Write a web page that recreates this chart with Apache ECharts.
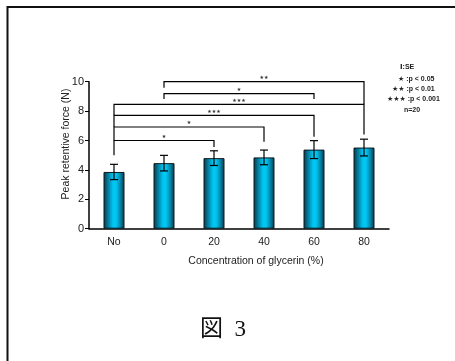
<!DOCTYPE html>
<html>
<head>
<meta charset="utf-8">
<script src="https://cdn.jsdelivr.net/npm/echarts@6/dist/echarts.min.js"></script>
<style>
  html, body { margin: 0; padding: 0; background: #fff; }
  #chart { width: 455px; height: 361px; }
</style>
</head>
<body>
<div id="chart"></div>
<script>
// Peak retentive force by glycerin concentration (mean ± SE, n=20)
const categories = ['No', '0', '20', '40', '60', '80'];
const meanForce = [3.86, 4.46, 4.80, 4.85, 5.38, 5.52];
const seForce = [0.52, 0.53, 0.50, 0.50, 0.61, 0.57];
const yTicks = [0, 2, 4, 6, 8, 10];

// Significance brackets: category indices, bracket height, leg ends and marker
const sigFrom = [0, 0, 0, 0, 1, 1];
const sigTo = [2, 3, 4, 5, 4, 5];
const sigLevel = [6.0, 6.92, 7.71, 8.46, 9.19, 10.0];
const sigLeftEnd = [5.0, 6.0, 6.92, 7.71, 8.82, 9.59];
const sigRightEnd = [5.55, 5.92, 6.26, 6.4, 8.82, 8.46];
const sigLabel = ['★', '★', '★★★', '★★★', '★', '★★'];

const legendLines = ['Ⅰ:SE', '★ :p < 0.05', '★★ :p < 0.01', '★★★ :p < 0.001', 'n=20'];

const chart = echarts.init(document.getElementById('chart'), null, { renderer: 'canvas' });

const barGradient = new echarts.graphic.LinearGradient(0, 0, 1, 0, [
  { offset: 0, color: '#0a3442' },
  { offset: 0.22, color: '#057ea0' },
  { offset: 0.45, color: '#00c6f2' },
  { offset: 0.6, color: '#00c6f2' },
  { offset: 0.82, color: '#047ea0' },
  { offset: 1, color: '#0a3442' }
]);

const errorData = meanForce.map((m, i) => [i, m - seForce[i], m + seForce[i]]);
const sigData = sigFrom.map((f, i) => [f, sigTo[i], sigLevel[i], sigLeftEnd[i], sigRightEnd[i], i]);

const legendX = [400, 398, 392, 387, 404];
const legendY = [67, 79, 89, 99, 110];

const option = {
  animation: false,
  backgroundColor: '#fff',
  grid: { left: 89, right: 66, top: 81.7, bottom: 132.3 },
  xAxis: {
    type: 'category',
    data: categories,
    axisLine: { lineStyle: { color: '#000', width: 1.5 } },
    axisTick: { show: false },
    axisLabel: { color: '#222', fontSize: 10.5, fontFamily: 'Liberation Sans, Arial', margin: 8 }
  },
  yAxis: {
    type: 'value',
    min: 0,
    max: 10,
    interval: 2,
    axisLine: { show: true, lineStyle: { color: '#000', width: 1.5 } },
    axisTick: { show: true, length: 4, lineStyle: { color: '#000', width: 1 } },
    splitLine: { show: false },
    axisLabel: {
      color: '#222', fontSize: 11, fontFamily: 'Liberation Sans, Arial', margin: 5,
      formatter: v => (yTicks.indexOf(v) >= 0 ? String(v) : '')
    }
  },
  series: [
    {
      type: 'bar',
      data: meanForce,
      barWidth: 21,
      itemStyle: { color: barGradient, borderColor: '#0b1a20', borderWidth: 1 },
      z: 2
    },
    {
      type: 'custom',
      data: errorData,
      z: 5,
      renderItem: function (params, api) {
        const x = api.value(0);
        const lo = api.coord([x, api.value(1)]);
        const hi = api.coord([x, api.value(2)]);
        const cap = 4;
        const st = { stroke: '#000', lineWidth: 1.2 };
        return {
          type: 'group',
          children: [
            { type: 'line', shape: { x1: lo[0], y1: lo[1], x2: hi[0], y2: hi[1] }, style: st },
            { type: 'line', shape: { x1: hi[0] - cap, y1: hi[1], x2: hi[0] + cap, y2: hi[1] }, style: st },
            { type: 'line', shape: { x1: lo[0] - cap, y1: lo[1], x2: lo[0] + cap, y2: lo[1] }, style: st }
          ]
        };
      }
    },
    {
      type: 'custom',
      data: sigData,
      z: 6,
      clip: false,
      renderItem: function (params, api) {
        const a = api.value(0), b = api.value(1), lvl = api.value(2);
        const pA = api.coord([a, lvl]);
        const pB = api.coord([b, lvl]);
        const eA = api.coord([a, api.value(3)]);
        const eB = api.coord([b, api.value(4)]);
        const idx = api.value(5);
        return {
          type: 'group',
          children: [
            { type: 'polyline', shape: { points: [[eA[0], eA[1]], [pA[0], pA[1]], [pB[0], pB[1]], [eB[0], eB[1]]] },
              style: { stroke: '#000', lineWidth: 1.2, fill: null } },
            { type: 'text', style: {
                text: sigLabel[idx], x: (pA[0] + pB[0]) / 2, y: pA[1] - 4,
                align: 'center', verticalAlign: 'middle',
                font: '5px DejaVu Sans', fill: '#333' } }
          ]
        };
      }
    }
  ],
  graphic: [
    { type: 'line', shape: { x1: 7.5, y1: 7, x2: 455, y2: 7 }, style: { stroke: '#111', lineWidth: 2 } },
    { type: 'line', shape: { x1: 7.5, y1: 6, x2: 7.5, y2: 361 }, style: { stroke: '#111', lineWidth: 2 } },
    { type: 'text', x: 66.5, y: 144, rotation: Math.PI / 2,
      style: { text: 'Peak retentive force (N)', align: 'center', verticalAlign: 'middle',
               font: '10.5px Liberation Sans, Arial', fill: '#222' } },
    { type: 'text', x: 256, y: 261,
      style: { text: 'Concentration of glycerin (%)', align: 'center', verticalAlign: 'middle',
               font: '10.5px Liberation Sans, Arial', fill: '#222' } },
    { type: 'text', x: 223, y: 330,
      style: { text: '図  3', align: 'center', verticalAlign: 'middle',
               font: '23px Liberation Serif, Noto Sans CJK JP', fill: '#111' } }
  ].concat(legendLines.map((t, i) => ({
    type: 'text', x: legendX[i], y: legendY[i],
    style: { text: t, align: 'left', verticalAlign: 'middle',
             font: 'bold 7px Liberation Sans, Arial, DejaVu Sans', fill: '#222' }
  })))
};

chart.setOption(option);
</script>
</body>
</html>
